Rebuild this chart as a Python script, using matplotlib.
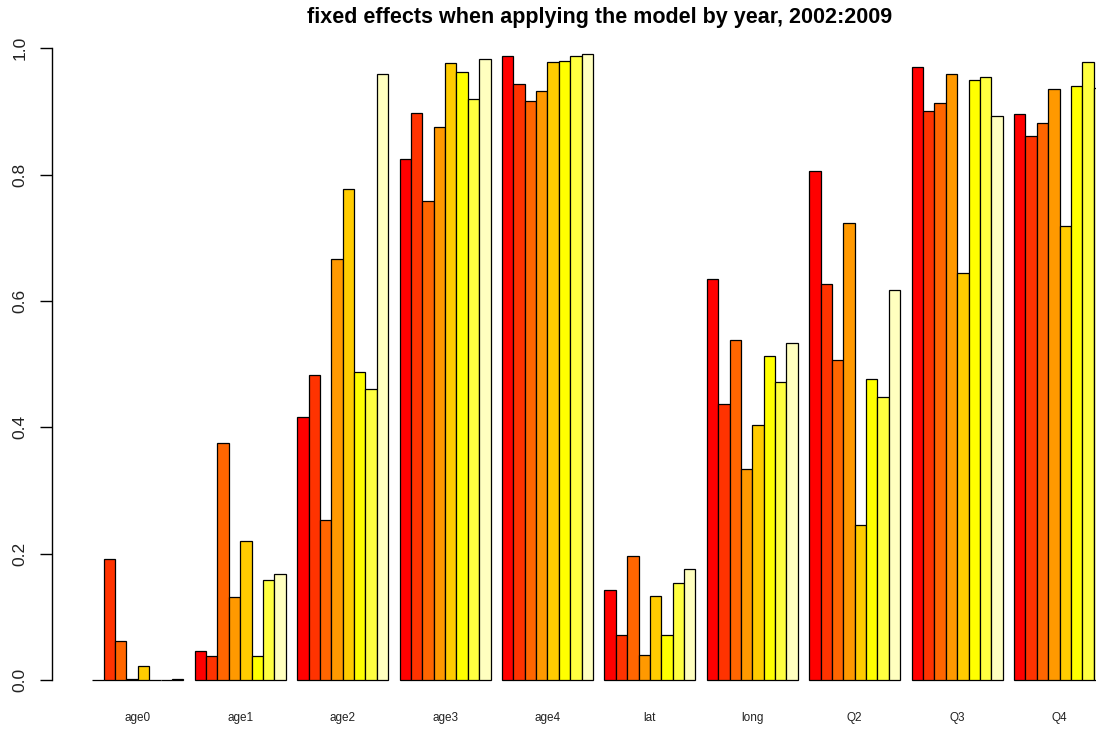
import numpy as np
import matplotlib
matplotlib.use('Agg')
import matplotlib.pyplot as plt

# heat.colors(8), one colour per year 2002..2009
years = list(range(2002, 2010))
colours = ['#FF0000', '#FF3300', '#FF6600', '#FF9900',
           '#FFCC00', '#FFFF00', '#FFFF40', '#FFFFBF']

effects = ['age0', 'age1', 'age2', 'age3', 'age4', 'lat', 'long', 'Q2', 'Q3', 'Q4']

age0 = [0.0, 0.191, 0.061, 0.002, 0.022, 0.0, 0.0, 0.002]
age1 = [0.046, 0.038, 0.375, 0.131, 0.220, 0.038, 0.158, 0.168]
age2 = [0.417, 0.483, 0.253, 0.666, 0.778, 0.487, 0.460, 0.960]
age3 = [0.824, 0.898, 0.759, 0.876, 0.976, 0.962, 0.920, 0.983]
age4 = [0.987, 0.944, 0.917, 0.933, 0.978, 0.980, 0.987, 0.991]
lat = [0.143, 0.071, 0.197, 0.040, 0.133, 0.071, 0.154, 0.175]
long_ = [0.635, 0.437, 0.538, 0.334, 0.404, 0.513, 0.472, 0.534]
q2 = [0.805, 0.627, 0.507, 0.723, 0.245, 0.477, 0.448, 0.617]
q3 = [0.970, 0.900, 0.913, 0.960, 0.644, 0.949, 0.954, 0.893]
q4 = [0.896, 0.861, 0.881, 0.935, 0.718, 0.941, 0.978, 0.937]

values = np.array([age0, age1, age2, age3, age4, lat, long_, q2, q3, q4])

plt.rcParams['font.family'] = ['Liberation Sans', 'DejaVu Sans']

fig = plt.figure(figsize=(10.96, 7.29), dpi=100)
# plot region like R barplot, the right part gets cut by the figure edge
ax = fig.add_axes([51.8 / 1096, 23.7 / 729, 1093.8 / 1096, 682.3 / 729])

ngroups, nyears = values.shape
for j in range(nyears):
    xs = 1 + np.arange(ngroups) * (nyears + 1) + j
    ax.bar(xs, values[:, j], width=1, align='edge', color=colours[j],
           edgecolor='black', linewidth=0.9, label=str(years[j]))

centres = 1 + np.arange(ngroups) * (nyears + 1) + nyears / 2
ax.set_xticks(centres)
ax.set_xticklabels(effects, fontsize=8.5, color='#222222')
ax.tick_params(axis='x', length=0, pad=5)

ax.set_xlim(-2.56, 93.56)
ax.set_ylim(-0.04, 1.04)
ax.set_yticks([0, 0.2, 0.4, 0.6, 0.8, 1.0])
ax.set_yticklabels(['0.0', '0.2', '0.4', '0.6', '0.8', '1.0'],
                   rotation=90, va='center', fontsize=12.5, color='#222222')
ax.tick_params(axis='y', length=8.5, width=1, pad=9)

for s in ['top', 'right', 'bottom']:
    ax.spines[s].set_visible(False)
ax.spines['left'].set_bounds(0, 1)
ax.spines['left'].set_linewidth(1)

fig.text(599.5 / 1096, 1 - 23.3 / 729,
         'fixed effects when applying the model by year, 2002:2009',
         ha='center', va='baseline', fontsize=15.5, fontweight='bold')

plt.savefig('out.png', dpi=100)
